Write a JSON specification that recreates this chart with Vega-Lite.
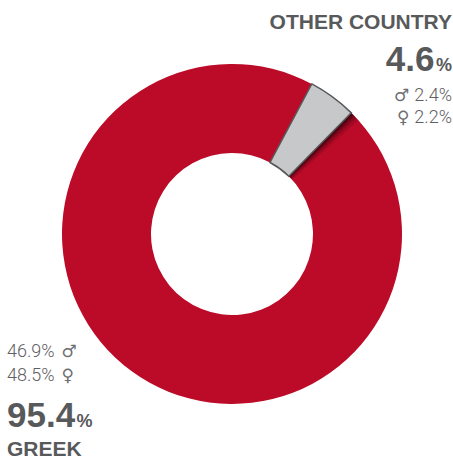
{
  "$schema": "https://vega.github.io/schema/vega-lite/v6.json",
  "width": 442,
  "height": 452,
  "padding": {"left": 11, "top": 8, "right": 0, "bottom": 0},
  "autosize": {"type": "none"},
  "config": {"view": {"stroke": null}},
  "data": {
    "values": [
      {"origin": "OTHER COUNTRY", "pct": 4.6, "male": 2.4, "female": 2.2, "rank": 1},
      {"origin": "GREEK", "pct": 95.4, "male": 46.9, "female": 48.5, "rank": 2}
    ]
  },
  "transform": [
    {"calculate": "format(datum.male, '.1f') + '%'", "as": "maleLabel"},
    {"calculate": "format(datum.female, '.1f') + '%'", "as": "femaleLabel"}
  ],
  "encoding": {
    "theta": {"field": "pct", "type": "quantitative", "stack": true, "scale": {"range": [0.4887, 6.7719]}},
    "order": {"field": "rank", "type": "quantitative"}
  },
  "layer": [
    {
      "mark": {"type": "arc", "innerRadius": 81, "outerRadius": 170},
      "encoding": {
        "color": {"field": "origin", "type": "nominal", "scale": {"domain": ["OTHER COUNTRY", "GREEK"], "range": ["#C7C8CA", "#BB0B28"]}, "legend": null}
      }
    },
    {
      "mark": {"type": "arc", "innerRadius": 81, "outerRadius": 170, "thetaOffset": 0.012, "color": "#1a0006"},
      "encoding": {"fillOpacity": {"condition": {"test": "datum.origin === 'GREEK'", "value": 0}, "value": 0.45}}
    },
    {
      "mark": {"type": "arc", "innerRadius": 81, "outerRadius": 170, "thetaOffset": 0.026, "color": "#1a0006"},
      "encoding": {"fillOpacity": {"condition": {"test": "datum.origin === 'GREEK'", "value": 0}, "value": 0.32}}
    },
    {
      "mark": {"type": "arc", "innerRadius": 81, "outerRadius": 170, "thetaOffset": 0.042, "color": "#1a0006"},
      "encoding": {"fillOpacity": {"condition": {"test": "datum.origin === 'GREEK'", "value": 0}, "value": 0.2}}
    },
    {
      "mark": {"type": "arc", "innerRadius": 81, "outerRadius": 170, "thetaOffset": 0.06, "color": "#1a0006"},
      "encoding": {"fillOpacity": {"condition": {"test": "datum.origin === 'GREEK'", "value": 0}, "value": 0.12}}
    },
    {
      "mark": {"type": "arc", "innerRadius": 81, "outerRadius": 170, "fill": "#C7C8CA", "stroke": "#58595B", "strokeWidth": 1.5},
      "encoding": {
        "fillOpacity": {"condition": {"test": "datum.origin === 'GREEK'", "value": 0}, "value": 1},
        "strokeOpacity": {"condition": {"test": "datum.origin === 'GREEK'", "value": 0}, "value": 1}
      }
    },
    {
      "transform": [{"filter": "datum.origin === 'OTHER COUNTRY'"}],
      "layer": [
        {"mark": {"type": "text", "radius": 200, "align": "right", "dx": 101.6, "dy": -43.8, "font": "Liberation Sans", "fontWeight": "bold", "fontSize": 21, "fill": "#58595B", "baseline": "alphabetic"}, "encoding": {"text": {"field": "origin"}}},
        {"mark": {"type": "text", "radius": 200, "align": "right", "dx": 84, "dy": -1.8, "font": "Liberation Sans", "fontWeight": "bold", "fontSize": 35, "fill": "#58595B", "baseline": "alphabetic"}, "encoding": {"text": {"field": "pct", "format": ".1f"}}},
        {"mark": {"type": "text", "radius": 200, "align": "right", "dx": 101.6, "dy": -1.8, "font": "Liberation Sans", "fontWeight": "bold", "fontSize": 18, "fill": "#58595B", "baseline": "alphabetic", "text": "%"}},
        {"mark": {"type": "text", "radius": 200, "align": "right", "dx": 101.6, "dy": 28.2, "font": "Roboto", "fontWeight": 300, "fontSize": 18, "fill": "#5F6062", "baseline": "alphabetic"}, "encoding": {"text": {"field": "maleLabel"}}},
        {"mark": {"type": "text", "radius": 200, "align": "right", "dx": 59, "dy": 28.2, "font": "DejaVu Sans", "fontSize": 17, "fill": "#6D6E71", "baseline": "alphabetic", "text": "\u2642"}},
        {"mark": {"type": "text", "radius": 200, "align": "right", "dx": 101.6, "dy": 50.2, "font": "Roboto", "fontWeight": 300, "fontSize": 18, "fill": "#5F6062", "baseline": "alphabetic"}, "encoding": {"text": {"field": "femaleLabel"}}},
        {"mark": {"type": "text", "radius": 200, "align": "right", "dx": 59, "dy": 50.2, "font": "DejaVu Sans", "fontSize": 17, "fill": "#6D6E71", "baseline": "alphabetic", "text": "\u2640"}}
      ]
    },
    {
      "transform": [{"filter": "datum.origin === 'GREEK'"}],
      "layer": [
        {"mark": {"type": "text", "radius": 200, "align": "left", "dx": -157.5, "dy": 33.7, "font": "Liberation Sans", "fontWeight": "bold", "fontSize": 21, "fill": "#58595B", "baseline": "alphabetic"}, "encoding": {"text": {"field": "origin"}}},
        {"mark": {"type": "text", "radius": 200, "align": "left", "dx": -157.5, "dy": 4.7, "font": "Liberation Sans", "fontWeight": "bold", "fontSize": 35, "fill": "#58595B", "baseline": "alphabetic"}, "encoding": {"text": {"field": "pct", "format": ".1f"}}},
        {"mark": {"type": "text", "radius": 200, "align": "left", "dx": -88, "dy": 4.7, "font": "Liberation Sans", "fontWeight": "bold", "fontSize": 18, "fill": "#58595B", "baseline": "alphabetic", "text": "%"}},
        {"mark": {"type": "text", "radius": 200, "align": "left", "dx": -157.5, "dy": -65.3, "font": "Roboto", "fontWeight": 300, "fontSize": 18, "fill": "#5F6062", "baseline": "alphabetic"}, "encoding": {"text": {"field": "maleLabel"}}},
        {"mark": {"type": "text", "radius": 200, "align": "left", "dx": -103, "dy": -65.3, "font": "DejaVu Sans", "fontSize": 17, "fill": "#6D6E71", "baseline": "alphabetic", "text": "\u2642"}},
        {"mark": {"type": "text", "radius": 200, "align": "left", "dx": -157.5, "dy": -41.3, "font": "Roboto", "fontWeight": 300, "fontSize": 18, "fill": "#5F6062", "baseline": "alphabetic"}, "encoding": {"text": {"field": "femaleLabel"}}},
        {"mark": {"type": "text", "radius": 200, "align": "left", "dx": -103, "dy": -41.3, "font": "DejaVu Sans", "fontSize": 17, "fill": "#6D6E71", "baseline": "alphabetic", "text": "\u2640"}}
      ]
    }
  ]
}
